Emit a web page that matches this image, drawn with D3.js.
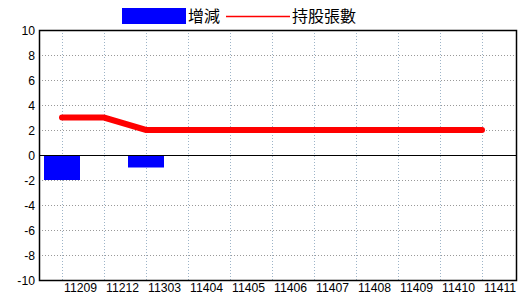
<html>
<head>
<meta charset="utf-8">
<title>持股張數</title>
<script src="https://d3js.org/d3.v7.min.js"></script>
<style>
body { margin: 0; background: #fff; }
.axis-label {
    font-family: "Liberation Sans Narrow", "Liberation Sans", Arial, sans-serif;
    font-size: 13px;
    fill: #000;
}
.legend-text {
    font-family: "Noto Sans CJK TC", sans-serif;
    font-size: 16px;
    fill: #000;
}
</style>
</head>
<body>
<div id="vis_container"></div>
<script>
// data
var months = ["11209", "11212", "11303", "11404", "11405", "11406", "11407", "11408", "11409", "11410", "11411"];
var change = [-2, 0, -1, 0, 0, 0, 0, 0, 0, 0, 0];
var holding = [3, 3, 2, 2, 2, 2, 2, 2, 2, 2, 2];
var yTicks = [-10, -8, -6, -4, -2, 0, 2, 4, 6, 8, 10];

var width = 520, height = 300;
// plot frame (note: "top" is a reserved window prop, so prefix these)
var plotLeft = 39, plotRight = 516, plotTop = 30, plotBottom = 280;
// narrow font is still a touch wide, squeeze a little
var squeeze = 0.94;

var svg = d3.select("#vis_container")
    .append("svg")
    .attr("width", width)
    .attr("height", height);

var x = d3.scalePoint()
    .domain(months)
    .range([plotLeft + 23, plotRight - 34]);

var y = d3.scaleLinear()
    .domain([-10, 10])
    .range([plotBottom, plotTop]);

// horizontal grid
svg.selectAll("line.hgrid")
    .data(yTicks.filter(function(d) { return d != 0 && d != 10 && d != -10; }))
    .enter()
    .append("line")
    .attr("x1", plotLeft).attr("x2", plotRight)
    .attr("y1", function(d) { return y(d) + 0.5; })
    .attr("y2", function(d) { return y(d) + 0.5; })
    .style("stroke", "#999")
    .style("stroke-dasharray", "1,2");

// vertical grid
svg.selectAll("line.vgrid")
    .data(months)
    .enter()
    .append("line")
    .attr("x1", function(d) { return x(d) + 0.5; })
    .attr("x2", function(d) { return x(d) + 0.5; })
    .attr("y1", plotTop).attr("y2", plotBottom)
    .style("stroke", "#9db4c8")
    .style("stroke-dasharray", "1,2");

// bars
svg.selectAll("rect.bar")
    .data(months.map(function(m, i) { return {m: m, v: change[i]}; }).filter(function(d) { return d.v != 0; }))
    .enter()
    .append("rect")
    .attr("x", function(d) { return x(d.m) - 18; })
    .attr("width", 36)
    .attr("y", function(d) { return Math.min(y(0), y(d.v)); })
    .attr("height", function(d) { return Math.abs(y(d.v) - y(0)); })
    .style("fill", "#0000ff");

// zero line
svg.append("line")
    .attr("x1", plotLeft).attr("x2", plotRight)
    .attr("y1", y(0) + 0.5).attr("y2", y(0) + 0.5)
    .style("stroke", "#000");

// frame
svg.append("rect")
    .attr("x", plotLeft + 0.5).attr("y", plotTop + 0.5)
    .attr("width", plotRight - plotLeft).attr("height", plotBottom - plotTop)
    .style("fill", "none")
    .style("stroke", "#000")
    .style("stroke-width", 1.5);

// holding line
var line = d3.line()
    .x(function(d, i) { return x(months[i]); })
    .y(function(d) { return y(d); });

svg.append("path")
    .datum(holding)
    .attr("d", line)
    .style("fill", "none")
    .style("stroke", "#ff0000")
    .style("stroke-width", 6)
    .style("stroke-linecap", "round");

// y tick labels
svg.selectAll("text.ytick")
    .data(yTicks)
    .enter()
    .append("text")
    .attr("class", "axis-label")
    .attr("transform", function(d) {
        return "translate(" + (plotLeft - 4) + "," + (y(d) + 5) + ") scale(" + squeeze + ",1)";
    })
    .style("text-anchor", "end")
    .text(function(d) { return d; });

// x tick labels
svg.selectAll("text.xtick")
    .data(months)
    .enter()
    .append("text")
    .attr("class", "axis-label")
    .attr("transform", function(d) {
        return "translate(" + (x(d) + 2) + "," + (plotBottom + 12) + ") scale(" + squeeze + ",1)";
    })
    .style("text-anchor", "start")
    .text(function(d) { return d; });

// legend
svg.append("rect")
    .attr("x", 122).attr("y", 8)
    .attr("width", 64).attr("height", 16)
    .style("fill", "#0000ff");
svg.append("text")
    .attr("class", "legend-text")
    .attr("x", 188).attr("y", 22)
    .text("增減");
svg.append("line")
    .attr("x1", 226).attr("x2", 290)
    .attr("y1", 16.5).attr("y2", 16.5)
    .style("stroke", "#ff0000")
    .style("stroke-width", 1.5);
svg.append("text")
    .attr("class", "legend-text")
    .attr("x", 292).attr("y", 22)
    .text("持股張數");
</script>
</body>
</html>
